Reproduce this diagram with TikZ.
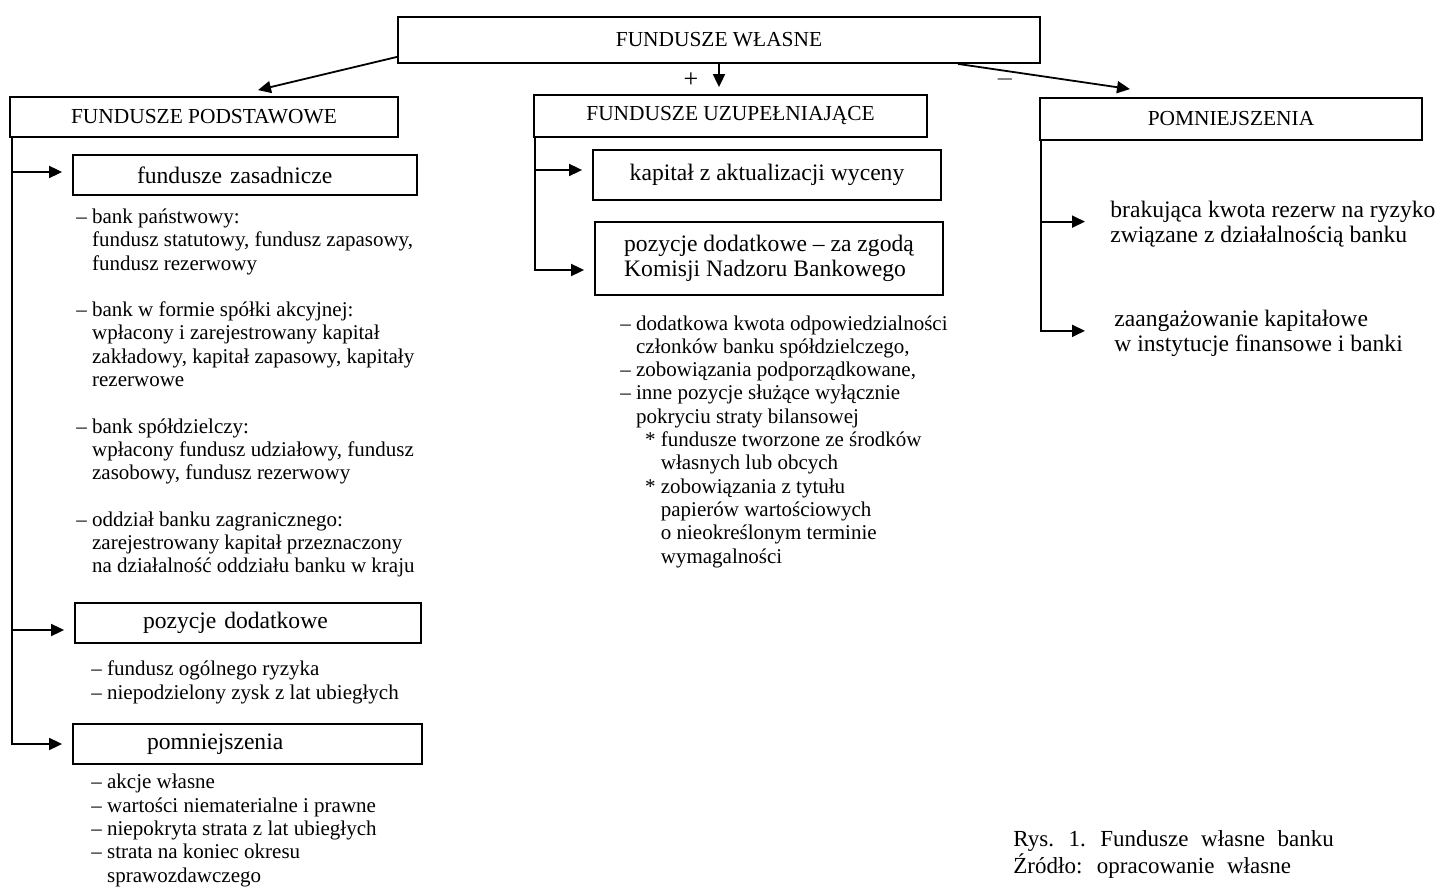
\documentclass[tikz,border=0pt]{standalone}
\usepackage{fontspec}
\setmainfont{Liberation Serif}
\newfontfamily\capfont{Liberation Serif}[WordSpace=2.2]
\usetikzlibrary{arrows.meta}
\tikzset{
	head/.style={draw, line width=.9pt, font=\fontsize{10.7}{12}\selectfont},
	subbox/.style={draw, line width=.9pt, align=left, font=\fontsize{11.8}{12.5}\selectfont},
	items/.style={anchor=base west, inner sep=0pt, align=left, font=\fontsize{10.5}{11.65}\selectfont},
	rtext/.style={items, font=\fontsize{11.8}{12.5}\selectfont},
	arr/.style={line width=.9pt, -{Triangle[length=6.5pt,width=6pt]}},
	sign/.style={inner sep=0pt, font=\fontsize{13}{13}\selectfont}
}
\newcommand\ind{\phantom{– }}
\newcommand\subind{\ind\hspace{4.5pt}}

\begin{document}
\begin{tikzpicture}[x=.5pt, y=-.5pt]
		\useasboundingbox (0,0) rectangle (1446,887);
		\node[head, minimum width=321pt, minimum height=23pt] (wl) at (719,40) {FUNDUSZE WŁASNE};
		\node[head, minimum width=194pt, minimum height=20pt] (fp) at (204,117) {FUNDUSZE PODSTAWOWE};
		\node[head, minimum width=196.5pt, minimum height=21pt] (fu) at (730.5,116) {FUNDUSZE UZUPEŁNIAJĄCE};
		\node[head, minimum width=191pt, minimum height=21pt] (pm) at (1231,119) {POMNIEJSZENIA};
		\draw[arr] ([yshift=3.5pt]wl.south west) -- ([xshift=27pt,yshift=3pt]fp.north);
		\draw[arr, shorten >=3.5pt] (wl.south) -- (wl.south |- fu.north);
		\draw[arr] ([xshift=-41.5pt]wl.south east) -- ([xshift=-50.5pt,yshift=4pt]pm.north);
		\node[sign] (plus) at (691,80) {+};
		\node[sign] (minus) at (1005,80) {$-$};

		\node[subbox, inner xsep=32pt, text width=108pt, minimum height=20pt] (zas) at (245,175) {fundusze zasadnicze};
		\node[subbox, inner xsep=34pt, text width=105pt, minimum height=20pt] (pdL) at (248,623) {pozycje dodatkowe};
		\node[subbox, inner xsep=37pt, text width=100.5pt, minimum height=20pt] (pmL) at (247.5,744) {pomniejszenia};
		\node[items] (zasl) at (76,573) {– bank państwowy:\\
				\ind fundusz statutowy, fundusz zapasowy,\\
				\ind fundusz rezerwowy\\[11.65pt]
				– bank w formie spółki akcyjnej:\\
				\ind wpłacony i zarejestrowany kapitał\\
				\ind zakładowy, kapitał zapasowy, kapitały\\
				\ind rezerwowe\\[11.65pt]
				– bank spółdzielczy:\\
				\ind wpłacony fundusz udziałowy, fundusz\\
				\ind zasobowy, fundusz rezerwowy\\[11.65pt]
				– oddział banku zagranicznego:\\
				\ind zarejestrowany kapitał przeznaczony\\
				\ind na działalność oddziału banku w kraju};
		\node[items] (pdl) at (91,699) {– fundusz ogólnego ryzyka\\– niepodzielony zysk z lat ubiegłych};
		\node[items] (pml) at (91,882) {– akcje własne\\– wartości niematerialne i prawne\\– niepokryta strata z lat ubiegłych\\– strata na koniec okresu\\\ind sprawozdawczego};
		\coordinate (lt) at ([xshift=1.5pt]fp.south west);
		\draw[arr, shorten >=5pt] (lt) |- (pmL.west);
		\foreach \bx/\dy in {zas/1.5pt, pdL/-3.5pt}{
				\draw[arr, shorten >=5pt] ([yshift=\dy]\bx.west -| lt) -- ([yshift=\dy]\bx.west);
			}

		\node[subbox, minimum width=174pt, minimum height=25pt] (kap) at (767,175) {kapitał z aktualizacji wyceny};
		\node[subbox, minimum width=174pt, minimum height=36.5pt] (pozM) at (769,258.5) {pozycje dodatkowe – za zgodą\\Komisji Nadzoru Bankowego};
		\node[items] (pozl) at (620,563) {– dodatkowa kwota odpowiedzialności\\
				\ind członków banku spółdzielczego,\\
				– zobowiązania podporządkowane,\\
				– inne pozycje służące wyłącznie\\
				\ind pokryciu straty bilansowej\\
				\subind* fundusze tworzone ze środków\\
				\subind\phantom{* }własnych lub obcych\\
				\subind* zobowiązania z tytułu\\
				\subind\phantom{* }papierów wartościowych\\
				\subind\phantom{* }o nieokreślonym terminie\\
				\subind\phantom{* }wymagalności};
		\coordinate (mt) at ([xshift=1pt]fu.south west);
		\draw[arr, shorten >=5pt] (mt) |- ([yshift=-5.75pt]pozM.west);
		\draw[arr, shorten >=5pt] ([yshift=2.5pt]kap.west -| mt) -- ([yshift=2.5pt]kap.west);

		\node[rtext] (br) at (1110,243) {brakująca kwota rezerw na ryzyko\\związane z działalnością banku};
		\node[rtext] (za) at (1114,352) {zaangażowanie kapitałowe\\w instytucje finansowe i banki};
		\coordinate (rt) at ([xshift=1pt]pm.south west);
		\draw[arr, shorten >=14.5pt] (rt) |- ([yshift=1.5pt]za.west);
		\draw[arr, shorten >=12.5pt] ([yshift=1.5pt]br.west -| rt) -- ([yshift=1.5pt]br.west);

		\node[items, font=\capfont\fontsize{11.5}{12}\selectfont] (cap) at (1013,873) {Rys. 1. Fundusze własne banku\\Źródło: opracowanie własne};
	\end{tikzpicture}
\end{document}
